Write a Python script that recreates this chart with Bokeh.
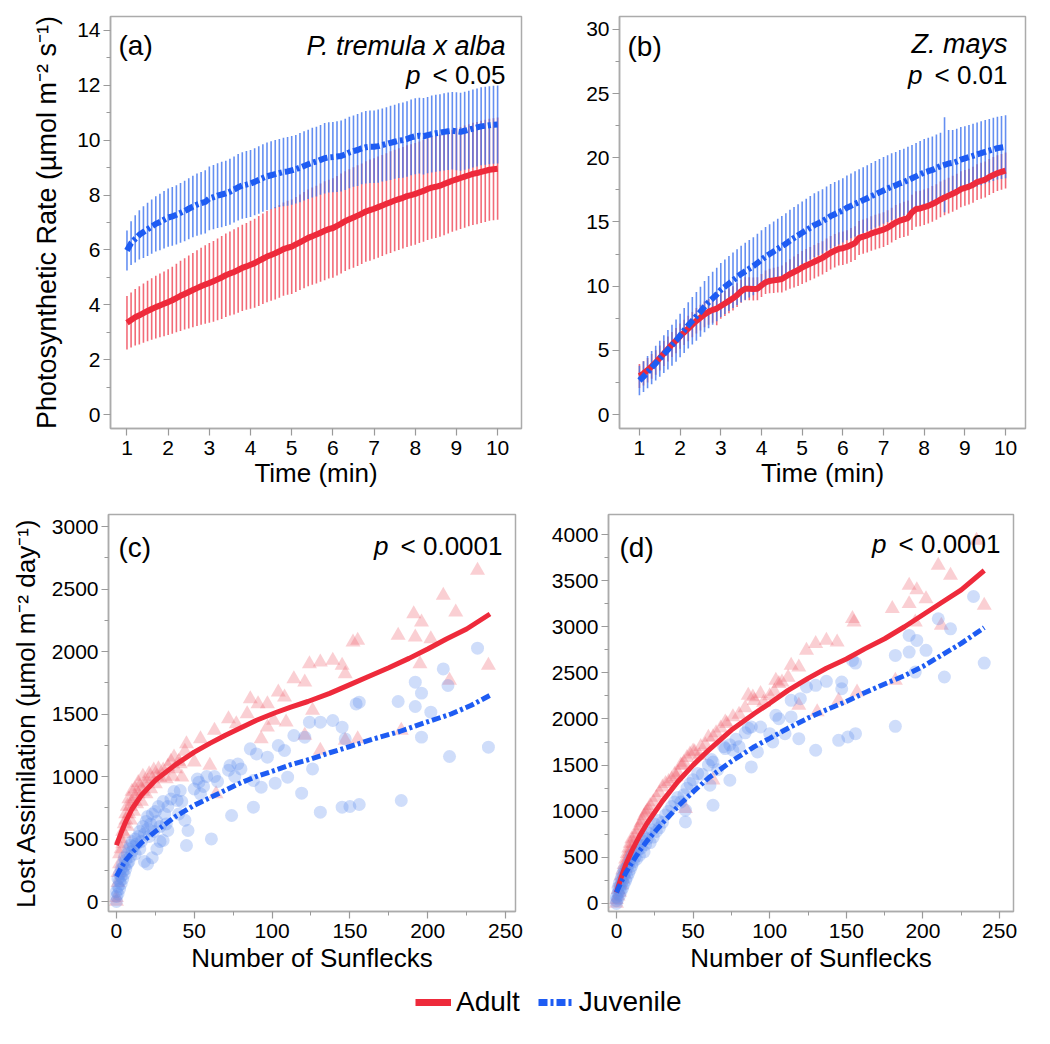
import numpy as np
from bokeh.plotting import figure
from bokeh.layouts import column, row
from bokeh.models import Range1d, FixedTicker, Label, Legend, LegendItem
from bokeh.embed import file_html
from bokeh.resources import INLINE

FONT = "Liberation Sans"
RED = "#EE2A3B"
RED_BAR = "#EF4656"
BLUE = "#1E5CF3"
BLUE_BAR = "#3F73EE"
TRI = "#F0606E"
CIR = "#5F8DF0"
AXC = "#ABABAB"

# ---------------- data: panels (a) and (b) ----------------
time_min = [round(1.0 + 0.1 * i, 1) for i in range(91)]

a_adult_mean = [3.35, 3.45, 3.55, 3.62, 3.70, 3.78, 3.85, 3.92, 3.98, 4.04,
                4.10, 4.17, 4.25, 4.33, 4.40, 4.47, 4.54, 4.61, 4.68, 4.74,
                4.80, 4.86, 4.93, 5.00, 5.08, 5.14, 5.20, 5.27, 5.35, 5.40,
                5.46, 5.52, 5.60, 5.68, 5.76, 5.82, 5.88, 5.95, 6.03, 6.08,
                6.12, 6.20, 6.28, 6.36, 6.44, 6.50, 6.56, 6.63, 6.70, 6.76,
                6.80, 6.88, 6.96, 7.05, 7.12, 7.18, 7.25, 7.32, 7.40, 7.45,
                7.50, 7.56, 7.62, 7.68, 7.74, 7.80, 7.85, 7.90, 7.96, 8.00,
                8.04, 8.10, 8.15, 8.22, 8.27, 8.30, 8.34, 8.40, 8.46, 8.52,
                8.57, 8.62, 8.67, 8.72, 8.77, 8.80, 8.84, 8.88, 8.92, 8.94,
                8.96]
a_adult_err = [0.97, 1.00, 1.03, 1.06, 1.08, 1.10, 1.12, 1.14, 1.16, 1.18,
               1.20, 1.22, 1.25, 1.28, 1.30, 1.33, 1.35, 1.38, 1.40, 1.43,
               1.45, 1.47, 1.49, 1.51, 1.52, 1.53, 1.55, 1.56, 1.57, 1.58,
               1.60, 1.62, 1.64, 1.65, 1.66, 1.67, 1.68, 1.69, 1.70, 1.71,
               1.72, 1.73, 1.74, 1.75, 1.76, 1.77, 1.78, 1.79, 1.80, 1.80,
               1.81, 1.81, 1.82, 1.82, 1.82, 1.83, 1.83, 1.83, 1.83, 1.84,
               1.84, 1.84, 1.84, 1.84, 1.85, 1.85, 1.85, 1.85, 1.85, 1.85,
               1.85, 1.85, 1.85, 1.86, 1.86, 1.86, 1.86, 1.86, 1.86, 1.86,
               1.86, 1.86, 1.86, 1.86, 1.86, 1.86, 1.86, 1.86, 1.86, 1.86,
               1.86]
a_juv_mean = [5.98, 6.25, 6.40, 6.55, 6.65, 6.75, 6.85, 6.95, 7.02, 7.10,
              7.18, 7.22, 7.28, 7.35, 7.42, 7.50, 7.58, 7.65, 7.70, 7.75,
              7.88, 7.92, 7.98, 8.02, 8.06, 8.12, 8.20, 8.28, 8.35, 8.38,
              8.42, 8.48, 8.55, 8.62, 8.68, 8.72, 8.76, 8.80, 8.84, 8.86,
              8.90, 8.94, 9.00, 9.06, 9.12, 9.18, 9.22, 9.28, 9.34, 9.37,
              9.38, 9.40, 9.42, 9.48, 9.55, 9.60, 9.64, 9.70, 9.74, 9.76,
              9.76, 9.78, 9.82, 9.86, 9.90, 9.94, 9.98, 10.00, 10.04, 10.10,
              10.14, 10.16, 10.14, 10.18, 10.22, 10.25, 10.27, 10.30, 10.32, 10.34,
              10.32, 10.30, 10.34, 10.38, 10.42, 10.46, 10.50, 10.52, 10.54, 10.56,
              10.57]
a_juv_err = [0.73, 0.80, 0.86, 0.90, 0.94, 0.97, 0.99, 1.01, 1.03, 1.05,
             1.06, 1.07, 1.08, 1.09, 1.10, 1.11, 1.12, 1.13, 1.14, 1.15,
             1.16, 1.17, 1.18, 1.19, 1.19, 1.20, 1.20, 1.21, 1.21, 1.22,
             1.22, 1.22, 1.23, 1.23, 1.23, 1.24, 1.24, 1.24, 1.25, 1.25,
             1.25, 1.25, 1.26, 1.26, 1.26, 1.27, 1.27, 1.27, 1.28, 1.28,
             1.28, 1.29, 1.29, 1.30, 1.30, 1.30, 1.31, 1.31, 1.32, 1.32,
             1.32, 1.33, 1.33, 1.34, 1.35, 1.35, 1.36, 1.37, 1.37, 1.38,
             1.38, 1.38, 1.39, 1.39, 1.40, 1.40, 1.40, 1.41, 1.41, 1.41,
             1.42, 1.42, 1.42, 1.42, 1.42, 1.42, 1.42, 1.42, 1.42, 1.42,
             1.42]

b_adult_mean = [3.00, 3.20, 3.45, 3.75, 4.05, 4.40, 4.75, 5.10, 5.45, 5.75,
                6.10, 6.40, 6.70, 7.00, 7.30, 7.55, 7.80, 8.00, 8.15, 8.25,
                8.45, 8.65, 8.85, 9.05, 9.30, 9.60, 9.80, 9.80, 9.78, 9.80,
                10.05, 10.30, 10.40, 10.45, 10.50, 10.55, 10.75, 10.95, 11.10, 11.25,
                11.45, 11.60, 11.75, 11.90, 12.05, 12.20, 12.40, 12.60, 12.75, 12.90,
                12.95, 13.05, 13.20, 13.35, 13.75, 13.85, 13.95, 14.10, 14.20, 14.30,
                14.40, 14.55, 14.75, 14.95, 15.10, 15.20, 15.30, 15.75, 16.00, 16.05,
                16.15, 16.25, 16.40, 16.55, 16.75, 16.90, 17.05, 17.20, 17.35, 17.55,
                17.65, 17.75, 17.90, 18.10, 18.20, 18.30, 18.50, 18.65, 18.80, 18.90,
                19.00]
b_adult_err = [0.93, 0.95, 0.95, 0.96, 0.96, 0.97, 0.97, 0.98, 0.98, 0.98,
               0.98, 0.99, 0.99, 0.99, 1.00, 1.00, 1.00, 1.00, 1.00, 1.30,
               1.00, 0.98, 0.96, 0.94, 0.92, 0.90, 0.90, 0.90, 0.90, 0.90,
               0.90, 0.92, 0.95, 0.98, 1.00, 1.05, 1.10, 1.15, 1.20, 1.25,
               1.28, 1.30, 1.30, 1.30, 1.30, 1.30, 1.30, 1.30, 1.30, 1.30,
               1.30, 1.31, 1.32, 1.32, 1.33, 1.33, 1.34, 1.34, 1.35, 1.35,
               1.35, 1.35, 1.36, 1.36, 1.36, 1.37, 1.37, 1.37, 1.38, 1.38,
               1.38, 1.38, 1.39, 1.39, 1.39, 1.39, 1.40, 1.40, 1.40, 1.40,
               1.40, 1.40, 1.40, 1.40, 1.40, 1.40, 1.40, 1.40, 1.40, 1.40,
               1.40]
b_juv_mean = [2.65, 2.95, 3.30, 3.65, 4.00, 4.35, 4.70, 5.05, 5.40, 5.75,
              6.15, 6.55, 6.95, 7.30, 7.65, 8.00, 8.40, 8.75, 9.05, 9.35,
              9.70, 9.95, 10.20, 10.45, 10.70, 10.95, 11.15, 11.35, 11.55, 11.80,
              12.05, 12.30, 12.50, 12.70, 12.90, 13.10, 13.30, 13.55, 13.75, 13.95,
              14.15, 14.35, 14.55, 14.75, 14.90, 15.05, 15.25, 15.45, 15.60, 15.75,
              15.90, 16.10, 16.25, 16.40, 16.55, 16.70, 16.85, 17.00, 17.15, 17.30,
              17.45, 17.60, 17.75, 17.85, 18.00, 18.10, 18.25, 18.40, 18.55, 18.70,
              18.85, 18.95, 19.05, 19.20, 19.35, 19.45, 19.55, 19.60, 19.70, 19.85,
              19.95, 20.05, 20.15, 20.25, 20.35, 20.45, 20.55, 20.65, 20.75, 20.80,
              20.85]
b_juv_err = [1.15, 1.20, 1.25, 1.30, 1.35, 1.40, 1.47, 1.54, 1.60, 1.65,
             1.70, 1.75, 1.80, 1.85, 1.90, 1.95, 2.00, 2.03, 2.06, 2.08,
             2.10, 2.12, 2.14, 2.16, 2.18, 2.20, 2.22, 2.24, 2.26, 2.28,
             2.30, 2.31, 2.32, 2.34, 2.35, 2.37, 2.38, 2.40, 2.41, 2.43,
             2.45, 2.46, 2.47, 2.48, 2.49, 2.50, 2.50, 2.50, 2.50, 2.50,
             2.50, 2.52, 2.53, 2.54, 2.55, 2.56, 2.57, 2.58, 2.59, 2.60,
             2.60, 2.60, 2.60, 2.60, 2.60, 2.60, 2.60, 2.60, 2.60, 2.60,
             2.60, 2.60, 2.60, 2.60, 2.60, 3.70, 2.60, 2.55, 2.55, 2.55,
             2.50, 2.50, 2.50, 2.50, 2.50, 2.48, 2.47, 2.46, 2.45, 2.45,
             2.45]

# ---------------- data: panels (c) and (d) ----------------
c_adult_pts = [(232, 2648), (210, 2448), (218, 2315), (191, 2301), (196, 2235), (181, 2128),
               (192, 2115), (202, 2101), (155, 2088), (152, 2075), (239, 1888), (195, 1901),
               (214, 1768), (124, 1901), (131, 1915), (139, 1928), (145, 1888), (147, 1821),
               (114, 1781), (121, 1755), (86, 1621), (91, 1581), (97, 1581), (104, 1675),
               (108, 1635), (126, 1528), (109, 1435), (101, 1448), (97, 1395), (72, 1461),
               (77, 1421), (84, 1501), (63, 1368), (183, 1368), (121, 1328), (93, 1301),
               (45, 1261), (54, 1301), (155, 1301), (147, 1288), (131, 1208), (60, 1088),
               (50, 1115), (37, 1155), (41, 1101), (42, 995), (64, 861), (44, 1200),
               (0, 0), (0, 30), (1, 150), (1, 230), (2, 300), (2, 380), (3, 420), (3, 500),
               (4, 560), (4, 460), (5, 620), (5, 540), (6, 650), (6, 700), (7, 600), (7, 760),
               (8, 700), (8, 820), (9, 760), (9, 650), (10, 800), (10, 880), (11, 720),
               (12, 840), (12, 900), (13, 780), (14, 860), (14, 950), (15, 920), (16, 800),
               (17, 880), (17, 1000), (18, 940), (19, 860), (20, 960), (21, 1020), (22, 900),
               (23, 980), (24, 1050), (25, 940), (26, 1000), (27, 1060), (28, 990), (30, 1050),
               (32, 980), (33, 1080), (35, 1120), (36, 1000), (38, 1060), (40, 1120)]
c_juv_pts = [(232, 2027), (210, 1861), (192, 1755), (196, 1667), (213, 1728), (181, 1600),
             (192, 1560), (154, 1581), (156, 1595), (202, 1515), (124, 1435), (131, 1435),
             (139, 1448), (145, 1395), (147, 1301), (114, 1328), (121, 1315), (196, 1315),
             (239, 1235), (214, 1160), (104, 1248), (108, 1208), (86, 1221), (90, 1181),
             (97, 1155), (126, 1061), (110, 995), (102, 947), (73, 1088), (80, 1061),
             (88, 968), (93, 915), (63, 1000), (119, 867), (183, 808), (88, 755), (131, 715),
             (145, 755), (150, 760), (156, 776), (74, 688), (61, 501), (45, 448), (46, 568),
             (53, 955), (54, 861), (41, 888), (39, 808), (30, 488), (33, 568),
             (0, 0), (0, 40), (0, 80), (1, 60), (1, 120), (1, 180), (2, 100), (2, 160),
             (2, 220), (3, 140), (3, 200), (3, 260), (4, 180), (4, 240), (4, 300), (5, 220),
             (5, 280), (5, 350), (6, 260), (6, 330), (7, 300), (7, 380), (8, 320), (8, 420),
             (9, 360), (9, 450), (10, 400), (10, 480), (11, 440), (12, 380), (12, 500),
             (13, 460), (14, 520), (15, 420), (15, 560), (16, 480), (17, 600), (18, 540),
             (19, 640), (20, 580), (20, 680), (21, 520), (22, 620), (23, 700), (24, 560),
             (25, 720), (26, 640), (27, 760), (28, 600), (30, 800), (31, 700), (33, 760),
             (35, 820), (37, 880), (18, 320), (20, 300), (23, 350), (26, 420), (28, 480),
             (32, 620), (40, 700), (42, 800), (44, 650), (50, 900), (52, 980), (56, 920),
             (58, 1000), (65, 960), (72, 1050), (76, 1000), (78, 1100)]
c_adult_fit_x = [0, 3, 6, 10, 16, 25, 38, 50, 60, 70, 80, 90, 102, 112, 123, 137, 150, 162, 175, 188, 200, 212, 225, 240]
c_adult_fit_y = [450, 550, 640, 740, 850, 970, 1095, 1195, 1265, 1330, 1390, 1450, 1510, 1555, 1600, 1665, 1735, 1800, 1870, 1945, 2020, 2100, 2180, 2300]
c_juv_fit_x = [0, 3, 6, 10, 16, 25, 38, 50, 60, 70, 80, 90, 102, 112, 125, 137, 150, 165, 182, 198, 215, 228, 240]
c_juv_fit_y = [200, 270, 330, 390, 470, 560, 680, 770, 830, 890, 950, 1000, 1050, 1095, 1140, 1190, 1240, 1300, 1360, 1430, 1500, 1570, 1650]

d_adult_pts = [(235, 3935), (210, 3664), (218, 3556), (191, 3447), (196, 3400), (202, 3303),
               (240, 3231), (180, 3195), (191, 3249), (195, 3050), (154, 3087), (155, 3050),
               (212, 3014), (130, 2816), (137, 2852), (144, 2834), (124, 2744), (114, 2581),
               (119, 2563), (182, 2419), (104, 2419), (106, 2383), (94, 2274), (89, 2238),
               (86, 2256), (119, 2148), (145, 2202), (157, 2292), (131, 2076), (71, 1967),
               (76, 2022), (63, 1805), (51, 1643), (54, 1606), (43, 1498), (39, 1372),
               (63, 1336), (45, 1029),
               (0, 0), (0, 40), (1, 80), (1, 150), (2, 120), (2, 220), (3, 200), (3, 300),
               (4, 260), (4, 360), (5, 320), (5, 420), (6, 380), (6, 480), (7, 440), (7, 540),
               (8, 500), (8, 600), (9, 560), (9, 650), (10, 600), (10, 700), (11, 650),
               (12, 720), (13, 760), (14, 800), (15, 840), (16, 880), (17, 900), (18, 950),
               (19, 980), (20, 1000), (21, 1020), (22, 1060), (24, 1100), (26, 1150),
               (28, 1200), (30, 1260), (32, 1300), (34, 1320), (36, 1350), (38, 1400),
               (40, 1420), (42, 1500), (44, 1530), (46, 1580), (48, 1620), (50, 1650),
               (55, 1700), (58, 1720), (60, 1800), (65, 1850), (68, 1900), (72, 1950),
               (80, 2050), (84, 2120), (90, 2200), (96, 2180), (100, 2250), (103, 2300),
               (108, 2400), (112, 2450)]
d_juv_pts = [(233, 3328), (210, 3087), (218, 2978), (191, 2906), (196, 2852), (202, 2744),
             (182, 2689), (191, 2726), (240, 2606), (154, 2635), (156, 2606), (195, 2509),
             (214, 2455), (137, 2408), (147, 2401), (130, 2365), (124, 2347), (147, 2328),
             (114, 2202), (120, 2220), (104, 2040), (106, 2003), (114, 2022), (94, 1913),
             (88, 1913), (100, 1841), (102, 1751), (110, 1841), (119, 1787), (130, 1661),
             (145, 1769), (151, 1805), (156, 1841), (182, 1920), (71, 1679), (76, 1661),
             (92, 1643), (88, 1480), (63, 1534), (74, 1336), (61, 1282), (63, 1065),
             (53, 1408), (45, 1011), (45, 884),
             (0, 0), (0, 30), (0, 70), (1, 50), (1, 110), (1, 170), (2, 90), (2, 150),
             (2, 220), (3, 130), (3, 200), (3, 270), (4, 170), (4, 250), (4, 320), (5, 210),
             (5, 300), (5, 370), (6, 250), (6, 340), (7, 290), (7, 390), (8, 330), (8, 430),
             (9, 370), (9, 470), (10, 410), (10, 520), (11, 450), (12, 500), (12, 560),
             (13, 480), (14, 580), (15, 520), (15, 640), (16, 600), (17, 680), (18, 560),
             (18, 720), (19, 640), (20, 700), (21, 760), (22, 660), (23, 800), (24, 720),
             (25, 860), (26, 780), (27, 900), (28, 820), (30, 880), (32, 960), (34, 1000),
             (36, 1050), (38, 1100), (40, 1150), (42, 1100), (44, 1180), (46, 1250),
             (48, 1300), (50, 1340), (56, 1400), (60, 1500), (62, 1560), (66, 1450),
             (70, 1700), (74, 1720), (78, 1780), (80, 1700), (84, 1850), (86, 1900)]
d_adult_fit_x = [0, 3, 6, 10, 15, 20, 30, 40, 50, 60, 75, 90, 100, 112, 125, 137, 150, 162, 175, 188, 200, 212, 225, 240]
d_adult_fit_y = [120, 280, 420, 570, 730, 870, 1110, 1320, 1500, 1660, 1880, 2060, 2170, 2310, 2440, 2550, 2650, 2760, 2870, 3000, 3130, 3260, 3400, 3610]
d_juv_fit_x = [0, 3, 6, 10, 15, 20, 30, 40, 50, 60, 75, 90, 100, 112, 125, 137, 150, 162, 175, 188, 200, 212, 225, 240]
d_juv_fit_y = [120, 230, 330, 440, 570, 680, 870, 1050, 1210, 1360, 1540, 1700, 1790, 1900, 2010, 2100, 2190, 2285, 2380, 2470, 2570, 2690, 2820, 2990]

# ---------------- ticks ----------------
time_ticks = [1, 2, 3, 4, 5, 6, 7, 8, 9, 10]
a_yticks = [0, 2, 4, 6, 8, 10, 12, 14]
a_yminor = [1, 3, 5, 7, 9, 11, 13]
b_yticks = [0, 5, 10, 15, 20, 25, 30]
b_yminor = [2.5, 7.5, 12.5, 17.5, 22.5, 27.5]
sf_ticks = [0, 50, 100, 150, 200, 250]
sf_minor = [25, 75, 125, 175, 225]
c_yticks = [0, 500, 1000, 1500, 2000, 2500, 3000]
c_yminor = [250, 750, 1250, 1750, 2250, 2750]
d_yticks = [0, 500, 1000, 1500, 2000, 2500, 3000, 3500, 4000]
d_yminor = [250, 750, 1250, 1750, 2250, 2750, 3250, 3750]


def make_fig(left, fw, right, top, fh, bottom, xr, yr):
    p = figure(width=left + fw + right, height=top + fh + bottom,
               x_range=Range1d(*xr), y_range=Range1d(*yr),
               output_backend="svg", toolbar_location=None,
               min_border_left=left, min_border_right=right,
               min_border_top=top, min_border_bottom=bottom)
    p.xgrid.visible = False
    p.ygrid.visible = False
    p.outline_line_color = AXC
    p.outline_line_width = 1.5
    p.outline_line_alpha = 1.0
    p.background_fill_color = "white"
    p.border_fill_color = "white"
    return p


def style_axes(p, xt, xm, yt, ym, xlabel, ylabel, xl_standoff, yl_standoff, ylabel_size="26px"):
    p.xaxis.ticker = FixedTicker(ticks=xt, minor_ticks=xm)
    p.yaxis.ticker = FixedTicker(ticks=yt, minor_ticks=ym)
    p.xaxis.axis_label = xlabel
    p.yaxis.axis_label = ylabel
    p.xaxis.axis_label_standoff = xl_standoff
    p.yaxis.axis_label_standoff = yl_standoff
    for ax in (p.xaxis[0], p.yaxis[0]):
        ax.axis_line_color = AXC
        ax.axis_line_width = 1.5
        ax.major_tick_line_color = "#9A9A9A"
        ax.minor_tick_line_color = "#9A9A9A"
        ax.major_tick_line_width = 1.2
        ax.minor_tick_line_width = 1.0
        ax.major_tick_out = 7
        ax.major_tick_in = 0
        ax.minor_tick_out = 4
        ax.minor_tick_in = 0
        ax.major_label_standoff = 3
        ax.major_label_text_font = FONT
        ax.major_label_text_font_size = "21px"
        ax.major_label_text_color = "black"
        ax.axis_label_text_font = FONT
        ax.axis_label_text_font_size = "26px"
        ax.axis_label_text_font_style = "normal"
        ax.axis_label_text_color = "black"
    p.xaxis[0].major_label_standoff = 5
    p.yaxis[0].axis_label_text_font_size = ylabel_size


def add_text(p, fw, fh, text, dx, dy, align="left", style="normal", size="26px"):
    x = dx if align == "left" else fw - dx
    p.add_layout(Label(x=x, y=fh - dy, x_units="screen", y_units="screen", text=text,
                       text_align=align, text_baseline="alphabetic", text_font=FONT,
                       text_font_style=style, text_font_size=size, text_color="black"))


def add_p(p, fw, fh, rest, dx, dy, p_offset):
    add_text(p, fw, fh, rest, dx, dy, align="right")
    add_text(p, fw, fh, "p", dx + p_offset, dy, align="right", style="italic")


def time_panel(p, adult_m, adult_e, juv_m, juv_e):
    t = np.array(time_min)
    am, ae = np.array(adult_m), np.array(adult_e)
    jm, je = np.array(juv_m), np.array(juv_e)
    p.segment(x0=t, y0=am - ae, x1=t, y1=am + ae, line_color=RED_BAR, line_width=1.6, line_alpha=0.8)
    p.segment(x0=t, y0=jm - je, x1=t, y1=jm + je, line_color=BLUE_BAR, line_width=1.6, line_alpha=0.8)
    p.line(t, am, line_color=RED, line_width=6)
    p.line(t, jm, line_color=BLUE, line_width=6, line_dash="9 3 3 3")


def scatter_panel(p, apts, jpts, afx, afy, jfx, jfy):
    ax_, ay_ = zip(*apts)
    jx_, jy_ = zip(*jpts)
    p.scatter(list(ax_), list(ay_), marker="triangle", size=15, fill_color=TRI, fill_alpha=0.3, line_color=None)
    p.scatter(list(jx_), list(jy_), marker="circle", size=13, fill_color=CIR, fill_alpha=0.3, line_color=None)
    p.line(afx, afy, line_color=RED, line_width=5, line_join="round")
    p.line(jfx, jfy, line_color=BLUE, line_width=5, line_dash="9 3 3 3")


# ---------------- panel (a) ----------------
FW_A, FH_A = 411, 412
pa = make_fig(110, FW_A, 10, 16, FH_A, 70, (0.6, 10.58), (-0.5, 14.5))
style_axes(pa, time_ticks, [], a_yticks, a_yminor, "Time (min)",
           "Photosynthetic Rate (µmol m⁻² s⁻¹)", 0, 12, ylabel_size="27px")
time_panel(pa, a_adult_mean, a_adult_err, a_juv_mean, a_juv_err)
add_text(pa, FW_A, FH_A, "(a)", 8, 29, size="28px")
add_text(pa, FW_A, FH_A, "P. tremula x alba", 16, 29, align="right", style="italic", size="27px")
add_p(pa, FW_A, FH_A, "< 0.05", 16, 58, 85)

# ---------------- panel (b) ----------------
FW_B, FH_B = 406, 412
pb = make_fig(88, FW_B, 10, 16, FH_B, 70, (0.51, 10.49), (-1.09, 31.0))
style_axes(pb, time_ticks, [], b_yticks, b_yminor, "Time (min)", None, 0, 10)
time_panel(pb, b_adult_mean, b_adult_err, b_juv_mean, b_juv_err)
add_text(pb, FW_B, FH_B, "(b)", 8, 30, size="28px")
add_text(pb, FW_B, FH_B, "Z. mays", 18, 27, align="right", style="italic", size="27px")
add_p(pb, FW_B, FH_B, "< 0.01", 18, 58, 85)

# ---------------- panel (c) ----------------
FW_C, FH_C = 407, 397
pc = make_fig(108, FW_C, 10, 16, FH_C, 66, (-5.1, 256.4), (-80, 3096))
style_axes(pc, sf_ticks, sf_minor, c_yticks, c_yminor, "Number of Sunflecks",
           "Lost Assimilation (µmol m⁻² day⁻¹)", 2, 8)
scatter_panel(pc, c_adult_pts, c_juv_pts, c_adult_fit_x, c_adult_fit_y, c_juv_fit_x, c_juv_fit_y)
add_text(pc, FW_C, FH_C, "(c)", 10, 33, size="28px")
add_p(pc, FW_C, FH_C, "< 0.0001", 13, 31, 114)

# ---------------- panel (d) ----------------
FW_D, FH_D = 405, 397
pd_ = make_fig(83, FW_D, 10, 16, FH_D, 66, (-5.2, 259.1), (-87, 4217))
style_axes(pd_, sf_ticks, sf_minor, d_yticks, d_yminor, "Number of Sunflecks", None, 2, 8)
scatter_panel(pd_, d_adult_pts, d_juv_pts, d_adult_fit_x, d_adult_fit_y, d_juv_fit_x, d_juv_fit_y)
add_text(pd_, FW_D, FH_D, "(d)", 11, 33, size="28px")
add_p(pd_, FW_D, FH_D, "< 0.0001", 13, 29, 114)

# ---------------- legend ----------------
leg = figure(width=1035, height=51, x_range=Range1d(0, 1), y_range=Range1d(0, 1),
             output_backend="svg", toolbar_location=None, min_border=0)
leg.axis.visible = False
leg.grid.visible = False
leg.outline_line_color = None
r_adult = leg.line(x=[-10, -9], y=[-10, -10], line_color=RED, line_width=7)
r_juv = leg.line(x=[-10, -9], y=[-10, -10], line_color=BLUE, line_width=7, line_dash="9 3 3 3")
legend = Legend(items=[LegendItem(label="Adult", renderers=[r_adult]),
                       LegendItem(label="Juvenile", renderers=[r_juv])],
                orientation="horizontal", location=(415, 10), padding=0, margin=0,
                spacing=18, glyph_width=36, glyph_height=30, label_height=30,
                label_standoff=5, label_text_font=FONT, label_text_font_size="28px",
                label_text_color="black", border_line_alpha=0, background_fill_alpha=0)
leg.add_layout(legend, "center")

layout = column(row(pa, pb), row(pc, pd_), leg)

with open("out.html", "w") as f:
    f.write(file_html(layout, INLINE))
